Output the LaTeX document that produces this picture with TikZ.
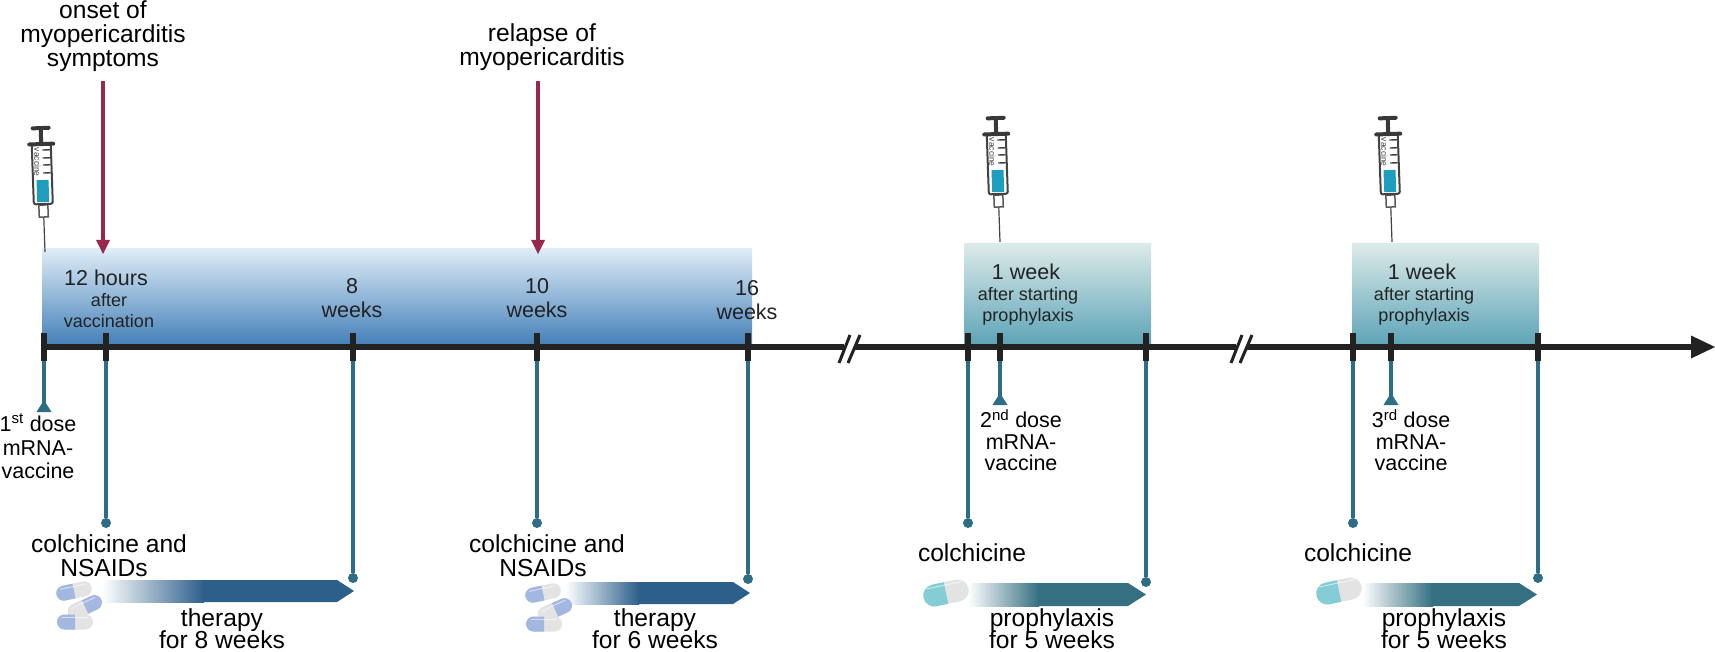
\documentclass[tikz,border=0pt]{standalone}
\usepackage{fontspec}
\setmainfont{Liberation Sans}
\definecolor{ink}{HTML}{222222}
\definecolor{tealline}{HTML}{2B6E85}
\definecolor{redarrow}{HTML}{97284A}
\definecolor{barblue}{HTML}{2D5F8B}
\definecolor{barteal}{HTML}{356F82}
\definecolor{pillblue}{HTML}{A3B8E0}
\definecolor{pillgrey}{HTML}{E3E3E3}
\definecolor{pillteal}{HTML}{85CDD5}
\definecolor{liquid}{HTML}{1E9DBE}
\definecolor{bluetop}{HTML}{DEECF7}
\definecolor{bluebot}{HTML}{4480B8}
\definecolor{tealtop}{HTML}{DCEAE8}
\definecolor{tealbot}{HTML}{5FA5B8}
\newcommand{\fsA}{\fontsize{24.6}{24}\selectfont}
\newcommand{\fsB}{\fontsize{21.5}{24.5}\selectfont}
\newcommand{\fsC}{\fontsize{18}{21}\selectfont}
\newcommand{\myPill}[7]{%
  \begin{scope}[shift={(#1,#2)},rotate=#3]
    \fill[#7,rounded corners=#5pt] (-#4,-#5) rectangle (#4,#5);
    \begin{scope}
      \clip (-#4,-#5) rectangle (0,#5);
      \fill[#6,rounded corners=#5pt] (-#4,-#5) rectangle (#4,#5);
    \end{scope}
    \draw[white,opacity=.55,line width=1,line cap=round] (-#4+5,-#5+3) -- (#4-5,-#5+3);
  \end{scope}}
\newcommand{\mySyringe}[2]{%
  \begin{scope}[shift={(#1,#2)},rotate=2]
    \draw[ink!85,line width=1.2] (0,0) -- (0,-35);
    \draw[ink!75,fill=white,line width=1.5] (-4.5,-35) rectangle (4.5,-47);
    \draw[ink!85,fill=white,line width=2,rounded corners=2pt] (-9.5,-48) rectangle (9.5,-108);
    \fill[liquid] (-6,-50) rectangle (6,-72);
    \foreach \yy in {-79,-87,-94,-102}{\draw[ink!85,line width=1.4] (1,\yy) -- (8.5,\yy);}
    \node[rotate=-90,font=\fontsize{8.5}{8.5}\selectfont,text=ink!85,inner sep=0pt] (vacc#1) at (-4.5,-90) {vaccine};
    \draw[ink!90,line width=4,line cap=round] (-12,-108) -- (12,-108);
    \draw[ink!90,line width=4] (0,-108) -- (0,-124);
    \draw[ink!90,line width=4,line cap=round] (-8,-124) -- (8,-124);
  \end{scope}}
\tikzset{
  lab/.style={align=center,inner sep=0pt,text=black},
  labA/.style={lab,font=\fsA},
  labB/.style={lab,font=\fsB,text=ink},
  labC/.style={lab,font=\fsC,text=ink},
  tickmark/.style={ink,line width=6},
  axisline/.style={ink,line width=5.5},
  stem/.style={tealline,line width=4},
  redarr/.style={redarrow,line width=4},
  dot/.style={circle,fill=tealline,inner sep=0pt,minimum size=10pt},
  tri/.style={fill=tealline},
}
\begin{document}
\begin{tikzpicture}[x=1pt,y=-1pt]
\useasboundingbox (0,0) rectangle (1715,652);
% gradient panels
\shade[top color=bluetop,bottom color=bluebot] (42,249) rectangle (752,345);
\shade[top color=tealtop,bottom color=tealbot] (964,244) rectangle (1151,343);
\shade[top color=tealtop,bottom color=tealbot] (1352,244) rectangle (1539,343);
% named tick positions
\foreach \nm/\xx in {ta/44,tb/106,tc/353,td/537,te/748,tf/968,tg/1000,th/1146,ti/1353,tj/1391,tk/1538}{
  \coordinate (\nm top) at (\xx,333);
  \coordinate (\nm) at (\xx,361);
}
\coordinate (axstart) at (44,347);
\coordinate (axend) at (1715,347);
% stems
\node[dot] (db) at (106,523) {};
\node[dot] (dc) at (353,578) {};
\node[dot] (dd) at (537,523) {};
\node[dot] (de) at (748,579) {};
\node[dot] (df) at (968,523) {};
\node[dot] (dh) at (1146,582) {};
\node[dot] (di) at (1353,523) {};
\node[dot] (dk) at (1538,578) {};
\coordinate (ca) at (44,412);
\coordinate (cg) at (1000,405);
\coordinate (cj) at (1391,405);
\draw[stem] (ta) -- (ca);
\draw[stem] (tg) -- (cg);
\draw[stem] (tj) -- (cj);
\foreach \s/\e in {tb/db,tc/dc,td/dd,te/de,tf/df,th/dh,ti/di,tk/dk}{\draw[stem] (\s) -- (\e);}
\fill[tri] (ca)++(-7.5,0) -- ++(7.5,-12) -- ++(7.5,12) -- cycle;
\fill[tri] (cg)++(-7.5,0) -- ++(7.5,-12) -- ++(7.5,12) -- cycle;
\fill[tri] (cj)++(-7.5,0) -- ++(7.5,-12) -- ++(7.5,12) -- cycle;
% axis
\draw[axisline] (axstart) -- (1695,347);
\fill[ink] (1691,335.5) -- (axend) -- (1691,358.5) -- cycle;
\foreach \nm in {ta,tb,tc,td,te,tf,tg,th,ti,tj,tk}{\draw[tickmark] (\nm top) -- (\nm);}
% axis breaks
\foreach \xx in {849,1241}{
  \fill[white] (\xx-5,342) rectangle (\xx+6,352);
  \draw[ink,line width=3] (\xx-10,363) -- (\xx+1,335);
  \draw[ink,line width=3] (\xx-1,363) -- (\xx+11,335);
}
% red arrows
\coordinate (ra0) at (103,81); \coordinate (ra1) at (103,241);
\coordinate (rb0) at (538,81); \coordinate (rb1) at (538,241);
\draw[redarr] (ra0) -- (ra1);
\draw[redarr] (rb0) -- (rb1);
\fill[redarrow] (96,240) -- (110,240) -- (103,254) -- cycle;
\fill[redarrow] (531,240) -- (545,240) -- (538,254) -- cycle;
% syringes
\mySyringe{45}{252}
\mySyringe{1000}{242}
\mySyringe{1392}{242}
% therapy bars
\shade[left color=white,right color=barblue] (102,580) rectangle (204,602);
\fill[barblue] (203,580) -- (337,580) -- (354,591) -- (337,602) -- (203,602) -- cycle;
\shade[left color=white,right color=barblue] (565,582) rectangle (639,604);
\fill[barblue] (638,582) -- (733,582) -- (750,593) -- (733,604) -- (638,604) -- cycle;
\shade[left color=white,right color=barteal] (968,583) rectangle (1039,606);
\fill[barteal] (1038,583) -- (1128,583) -- (1146,594.5) -- (1128,606) -- (1038,606) -- cycle;
\shade[left color=white,right color=barteal] (1362,583) rectangle (1433,606);
\fill[barteal] (1432,583) -- (1519,583) -- (1537,594.5) -- (1519,606) -- (1432,606) -- cycle;
% pills
\myPill{74}{591}{12}{18}{7.5}{pillblue}{pillgrey}
\myPill{85}{607}{25}{18}{7.5}{pillgrey}{pillblue}
\myPill{75}{622}{0}{18}{7.5}{pillblue}{pillgrey}
\myPill{543}{593}{12}{18}{7.5}{pillblue}{pillgrey}
\myPill{555}{610}{25}{18}{7.5}{pillgrey}{pillblue}
\myPill{544}{624}{0}{18}{7.5}{pillblue}{pillgrey}
\myPill{946}{593}{12}{23}{11}{pillteal}{pillgrey}
\myPill{1339}{591}{12}{23}{11}{pillteal}{pillgrey}
% top labels
\node[labA,anchor=north] (onset) at (103,0.5) {onset of\\myopericarditis\\symptoms};
\node[labA] (relapse) at (542,47) {relapse of\\myopericarditis};
\node[labB] (h12) at (106,278) {12 hours};
\node[labC] (after) at (109,311) {after\\vaccination};
\node[labB] (w8) at (352,298) {8\\weeks};
\node[labB] (w10) at (537,298) {10\\weeks};
\node[labB] (w16) at (747,300) {16\\weeks};
\node[labB] (wk1) at (1026,272) {1 week};
\node[labC] (as1) at (1028,306) {after starting\\prophylaxis};
\node[labB] (wk2) at (1422,272) {1 week};
\node[labC] (as2) at (1424,306) {after starting\\prophylaxis};
% lower labels
\node[labB,text=black] (d1) at (38,446) {1\textsuperscript{st} dose\\mRNA-\\[-2pt]vaccine};
\node[labB,text=black] (d2) at (1021,440) {2\textsuperscript{nd} dose\\[-3pt]mRNA-\\[-3pt]vaccine};
\node[labB,text=black] (d3) at (1411,440) {3\textsuperscript{rd} dose\\[-3pt]mRNA-\\[-3pt]vaccine};
\node[labA] (c1) at (109,544) {colchicine and};
\node[labA] (n1) at (104,568) {NSAIDs};
\node[labA] (c2) at (547,544) {colchicine and};
\node[labA] (n2) at (543,568) {NSAIDs};
\node[labA] (c3) at (972,553) {colchicine};
\node[labA] (c4) at (1358,553) {colchicine};
\node[labA] (t1) at (222,629) {therapy\\[-2pt]for 8 weeks};
\node[labA] (t2) at (655,629) {therapy\\[-2pt]for 6 weeks};
\node[labA] (p1) at (1052,628.5) {prophylaxis\\[-2pt]for 5 weeks};
\node[labA] (p2) at (1444,628.5) {prophylaxis\\[-2pt]for 5 weeks};
\end{tikzpicture}
\end{document}
